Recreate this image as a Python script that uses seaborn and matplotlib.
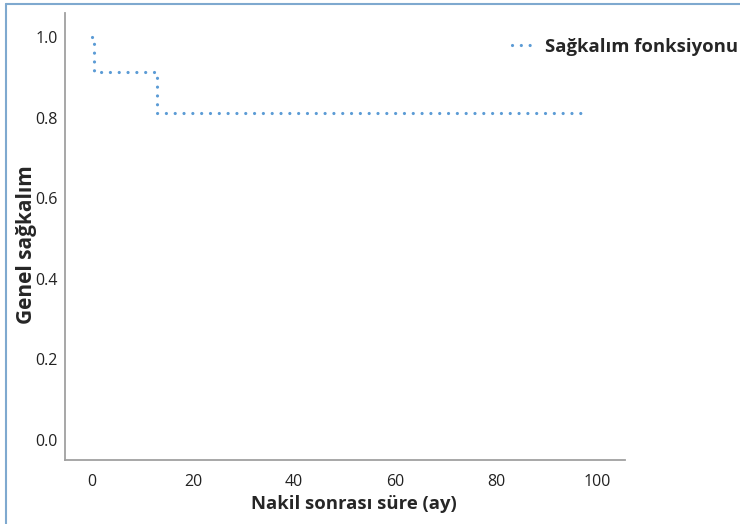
import numpy as np
import pandas as pd
import seaborn as sns
import matplotlib.pyplot as plt
from matplotlib.lines import Line2D

sns.set_style("white")
plt.rcParams['font.family'] = ['Open Sans', 'DejaVu Sans']

# Kaplan-Meier steps
time_months = [0, 0.5, 13, 97]
survival = [1.0, 0.913, 0.812, 0.812]
xticks = [0, 20, 40, 60, 80, 100]
yticks = [0.0, 0.2, 0.4, 0.6, 0.8, 1.0]

df = pd.DataFrame({'time': time_months, 'surv': survival})
line_color = '#5b9bd5'
dots = (0, (0.01, 2.75))

fig = plt.figure(figsize=(7.4, 5.24), dpi=100)
ax = fig.add_axes([0.0878, 0.1221, 0.757, 0.853])

sns.lineplot(data=df, x='time', y='surv', ax=ax, drawstyle='steps-post',
             color=line_color, linewidth=2.3, linestyle=dots,
             dash_capstyle='round', sort=False)

ax.set_xlim(-5.3, 105.5)
ax.set_ylim(-0.05, 1.06)
ax.set_xticks(xticks)
ax.set_yticks(yticks)
ax.set_xticklabels([str(t) for t in xticks], fontsize=11.5, color='#222222')
ax.set_yticklabels([f'{t:.1f}' for t in yticks], fontsize=11.5, color='#222222')
ax.tick_params(axis='x', length=0, pad=10)
ax.tick_params(axis='y', length=0, pad=5)

for side in ['top', 'right']:
    ax.spines[side].set_visible(False)
for side in ['left', 'bottom']:
    ax.spines[side].set_color('#a0a0a0')
    ax.spines[side].set_linewidth(1.3)

ax.set_xlabel('Nakil sonrası süre (ay)', fontsize=13.3, fontweight='bold')
ax.set_ylabel('Genel sağkalım', fontsize=15, fontweight='bold')
ax.xaxis.set_label_coords(0.516, -0.078)
ax.yaxis.set_label_coords(-0.05, 0.483)

handle = Line2D([0], [0], color=line_color, linewidth=2.3, linestyle=dots,
                dash_capstyle='round')
fig.legend([handle], ['Sağkalım fonksiyonu'], loc='upper right',
           bbox_to_anchor=(1.02, 0.96), frameon=False, handlelength=1.3,
           handletextpad=0.5, prop={'weight': 'bold', 'size': 13.3})

# thin blue frame on the left and top edges
fig.add_artist(Line2D([0.008, 0.008], [0, 0.993], transform=fig.transFigure,
                      color='#7fa9cf', linewidth=1.5))
fig.add_artist(Line2D([0.008, 1], [0.993, 0.993], transform=fig.transFigure,
                      color='#7fa9cf', linewidth=1.5))

fig.savefig('out.png', dpi=100)
